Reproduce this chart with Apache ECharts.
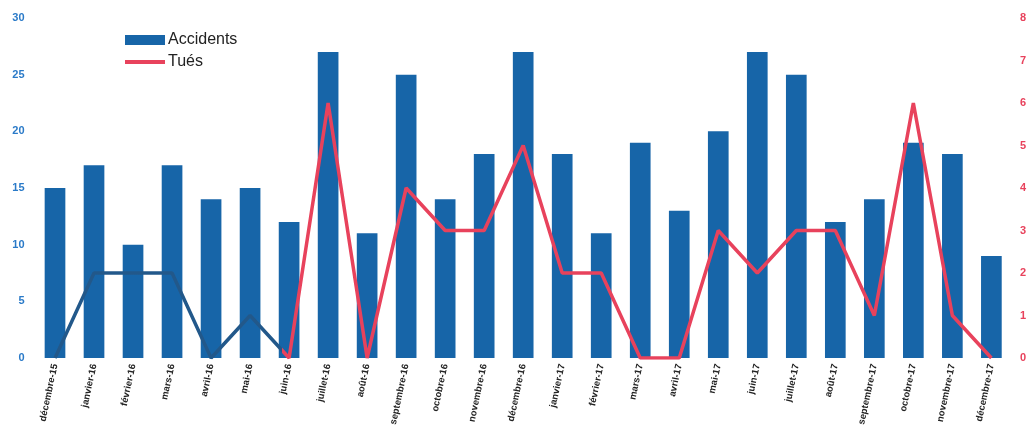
<!DOCTYPE html>
<html>
<head>
<meta charset="utf-8">
<script src="https://cdn.jsdelivr.net/npm/echarts@6/dist/echarts.min.js"></script>
<style>html,body{margin:0;padding:0;background:#fff}#c{width:1029px;height:434px}</style>
</head>
<body>
<div id="c"></div>
<script>
const categories = ["décembre-15","janvier-16","février-16","mars-16","avril-16","mai-16","juin-16","juillet-16","août-16","septembre-16","octobre-16","novembre-16","décembre-16","janvier-17","février-17","mars-17","avril-17","mai-17","juin-17","juillet-17","août-17","septembre-17","octobre-17","novembre-17","décembre-17"];
const accidents = [15,17,10,17,14,15,12,27,11,25,14,18,27,18,11,19,13,20,27,25,12,14,19,18,9];
const tues = [0,2,2,2,0,1,0,6,0,4,3,3,5,2,2,0,0,3,2,3,3,1,6,1,0];
const leftTicks = [0,5,10,15,20,25,30];
const rightTicks = [0,1,2,3,4,5,6,7,8];

const RED = '#e8425c', DARK = '#22588a';
const split = 5.85 / (categories.length - 1);
const lineGrad = new echarts.graphic.LinearGradient(0, 0, 1, 0, [
  {offset: 0, color: DARK}, {offset: split, color: DARK},
  {offset: split, color: RED}, {offset: 1, color: RED}
]);

const chart = echarts.init(document.getElementById('c'));
chart.setOption({
  animation: false,
  textStyle: {fontFamily: 'Liberation Sans, Arial, sans-serif'},
  grid: {left: 35.5, right: 15.4, top: 18, bottom: 76},
  legend: {
    orient: 'vertical', left: 120, top: 27, itemGap: 6,
    itemWidth: 40, itemHeight: 10,
    textStyle: {fontSize: 16, color: '#222', padding: [0,0,0,-2]},
    data: [
      {name: 'Accidents', icon: 'rect'},
      {name: 'Tués', icon: 'path://M0,0 L40,0 L40,4 L0,4 Z', itemStyle: {color: RED}}
    ]
  },
  xAxis: {
    type: 'category', data: categories,
    axisLine: {show: false}, axisTick: {show: false},
    axisLabel: {rotate: 78, fontSize: 9.5, fontWeight: 'bold', color: '#222', margin: 6, interval: 0}
  },
  yAxis: [
    {type: 'value', min: 0, max: 30, interval: 5, splitLine: {show: false},
     axisLabel: {color: '#2a7ac8', fontWeight: 'bold', fontSize: 11, margin: 11,
       formatter: v => leftTicks.includes(v) ? String(v) : ''}},
    {type: 'value', min: 0, max: 8, interval: 1, splitLine: {show: false},
     axisLabel: {color: RED, fontWeight: 'bold', fontSize: 11, margin: 9,
       formatter: v => rightTicks.includes(v) ? String(v) : ''}}
  ],
  series: [
    {name: 'Accidents', type: 'bar', data: accidents, barWidth: '53%',
     itemStyle: {color: '#1765a8'}},
    {name: 'Tués', type: 'line', yAxisIndex: 1, data: tues, showSymbol: false, symbol: 'none',
     lineStyle: {width: 3.5, color: lineGrad}, itemStyle: {color: RED}}
  ]
});
</script>
</body>
</html>
